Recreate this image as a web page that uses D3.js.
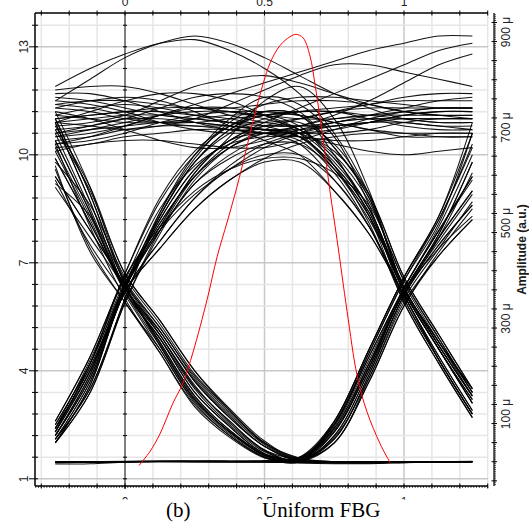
<!DOCTYPE html>
<html>
<head>
<meta charset="utf-8">
<script src="https://cdn.jsdelivr.net/npm/d3@7"></script>
<style>
  body { margin: 0; background: #fff; }
  svg { display: block; }
  .tick_text { font-family: "Liberation Sans", Arial, sans-serif; font-size: 12px; fill: #222; }
  .axis_title { font-family: "Liberation Sans", Arial, sans-serif; font-size: 12px; font-weight: bold; fill: #1a1a1a; }
  .caption { font-family: "Liberation Serif", "Times New Roman", serif; font-size: 21px; fill: #000; }
</style>
</head>
<body>
<div class="d3_content"></div>
<script>
// sample times of every eye trace (bit periods)
const time_samples = [-0.25, -0.125, 0, 0.125, 0.25, 0.375, 0.5, 0.625, 0.75, 0.875, 1, 1.125, 1.245];

// eye traces grouped by bit pattern (prev, current, next), left axis units
const traces_000 = [
  [1.47,1.47,1.48,1.48,1.48,1.48,1.47,1.46,1.46,1.46,1.47,1.48,1.48],
  [1.41,1.42,1.46,1.48,1.49,1.49,1.48,1.44,1.42,1.42,1.45,1.48,1.49],
  [1.45,1.46,1.47,1.50,1.50,1.49,1.47,1.46,1.45,1.45,1.46,1.47,1.47],
  [1.48,1.48,1.49,1.49,1.48,1.47,1.46,1.45,1.44,1.44,1.46,1.47,1.48]
];
const traces_001 = [
  [1.47,1.47,1.48,1.48,1.48,1.48,1.49,1.55,2.3,4.1,6.2,7.7,9.0],
  [1.46,1.47,1.47,1.48,1.49,1.49,1.50,1.60,2.5,4.4,6.3,7.9,9.4],
  [1.48,1.48,1.48,1.47,1.47,1.47,1.48,1.52,2.1,3.9,6.1,7.5,8.6],
  [1.45,1.46,1.47,1.48,1.48,1.49,1.50,1.58,2.4,4.2,6.2,7.8,9.8],
  [1.46,1.46,1.47,1.48,1.48,1.48,1.49,1.60,2.6,4.6,6.6,8.3,10.6],
  [1.47,1.47,1.48,1.48,1.48,1.48,1.48,1.50,2.0,3.7,5.8,7.2,8.2],
  [1.47,1.48,1.48,1.48,1.47,1.47,1.48,1.56,2.5,4.5,6.5,8.2,10.2]
];
const traces_100 = [
  [10.9,8.7,6.3,4.9,3.4,2.45,1.7,1.5,1.47,1.46,1.47,1.47,1.47],
  [9.9,8.1,6.3,5.1,3.7,2.7,1.9,1.55,1.48,1.47,1.47,1.48,1.48],
  [10.4,8.4,6.2,4.7,3.2,2.3,1.65,1.48,1.46,1.46,1.47,1.47,1.48],
  [9.4,7.9,6.4,5.0,3.55,2.6,1.8,1.52,1.47,1.47,1.48,1.48,1.48],
  [11.0,8.9,6.4,4.8,3.3,2.35,1.68,1.5,1.45,1.44,1.45,1.46,1.47],
  [9.7,7.3,5.9,4.5,3.05,2.2,1.6,1.47,1.45,1.45,1.46,1.47,1.47],
  [10.8,9.1,6.7,5.4,4.0,2.9,2.0,1.58,1.48,1.47,1.47,1.47,1.48],
  [9.2,8.3,6.5,5.2,3.85,2.85,1.98,1.56,1.47,1.46,1.46,1.47,1.47]
];
const traces_101 = [
  [10.1,8.2,6.2,4.9,3.4,2.45,1.7,1.5,2.3,4.1,6.2,7.7,9.0],
  [10.6,8.5,6.3,5.1,3.7,2.7,1.9,1.55,2.5,4.4,6.3,7.9,9.4],
  [9.1,7.7,6.3,4.7,3.2,2.3,1.65,1.48,2.1,3.9,6.1,7.5,8.6],
  [10.9,8.7,6.3,5.0,3.55,2.6,1.8,1.52,2.4,4.2,6.2,7.8,9.8],
  [9.9,8.1,6.3,4.8,3.3,2.35,1.68,1.5,2.2,4.0,6.2,7.4,8.3],
  [10.4,8.4,6.2,4.9,3.5,2.5,1.75,1.5,2.3,4.2,6.3,7.9,9.3],
  [9.4,7.9,6.4,5.2,3.8,2.8,1.95,1.56,2.35,4.1,6.2,7.6,8.9],
  [11.0,8.9,6.4,4.75,3.25,2.3,1.66,1.49,2.2,4.0,6.1,7.7,9.5],
  [10.2,8.3,6.3,5.0,3.6,2.55,1.78,1.51,2.45,4.3,6.3,8.0,10.0],
  [9.6,7.4,5.9,4.6,3.1,2.2,1.6,1.47,2.0,3.7,5.8,7.3,8.5],
  [10.7,9.0,6.7,5.4,4.0,2.95,2.05,1.6,2.6,4.6,6.6,8.2,10.3],
  [10.3,8.0,6.0,4.5,3.0,2.15,1.58,1.47,2.15,3.8,5.9,7.2,8.2],
  [9.8,8.6,6.6,5.3,3.9,2.9,2.0,1.58,2.55,4.5,6.5,8.1,10.6],
  [11.2,9.1,6.5,5.1,3.75,2.75,1.9,1.54,2.0,3.8,6.0,7.4,8.7],
  [9.3,7.5,6.1,4.6,3.15,2.25,1.62,1.48,2.6,4.6,6.6,8.3,10.9]
];
const traces_010 = [
  [2.2,3.9,6.3,7.9,9.2,9.9,10.3,10.3,9.6,8.3,6.2,4.6,3.1],
  [2.4,4.1,6.3,8.2,9.6,10.4,10.8,10.7,9.9,8.5,6.3,4.7,3.3],
  [2.1,3.7,6.2,7.6,8.8,9.6,10.0,10.0,9.3,8.0,6.1,4.4,2.9],
  [2.3,4.0,6.4,8.3,9.8,10.7,11.2,11.1,10.2,8.8,6.3,4.8,3.5],
  [2.0,3.6,6.2,7.4,8.5,9.3,9.8,9.8,9.0,7.8,6.1,4.3,2.8],
  [2.5,4.2,6.4,8.1,9.4,10.2,10.6,10.5,9.7,8.4,6.2,4.6,3.2],
  [2.2,3.8,6.3,8.0,9.5,10.5,11.5,11.9,11.0,9.0,6.3,4.7,3.3],
  [2.0,3.4,5.9,7.9,9.4,10.3,10.8,10.9,10.3,8.9,6.6,5.0,3.5],
  [2.6,4.4,6.7,8.7,10.0,10.8,11.2,11.1,10.0,8.3,5.9,4.2,2.7],
  [2.3,4.2,6.6,8.0,9.0,9.6,9.9,9.9,9.5,8.6,6.5,4.9,3.4],
  [2.1,3.5,6.0,8.4,10.0,11.0,11.6,11.4,10.5,8.6,6.0,4.3,2.8]
];
const traces_011 = [
  [2.2,3.9,6.3,7.9,9.2,10.0,10.5,10.8,11.0,11.1,11.1,11.1,11.1],
  [2.4,4.1,6.3,8.2,9.6,10.4,10.9,11.3,11.7,12.1,12.5,12.9,13.1],
  [2.1,3.7,6.2,7.6,8.8,9.7,10.3,10.6,10.8,10.9,10.9,10.8,10.8],
  [2.3,4.0,6.4,8.3,9.8,10.7,11.1,11.1,10.9,10.7,10.5,10.5,10.5],
  [2.0,3.6,6.2,7.4,8.5,9.3,9.9,10.3,10.5,10.6,10.6,10.6,10.6],
  [2.5,4.2,6.4,8.1,9.4,10.2,10.6,10.8,11.1,11.5,12.0,12.5,12.8],
  [2.2,3.8,6.3,8.0,9.5,10.4,10.6,10.5,10.3,10.1,10.0,10.1,10.2],
  [2.4,4.0,6.3,8.4,9.9,10.9,11.4,11.6,11.6,11.5,11.4,11.3,11.3],
  [2.0,3.4,5.9,7.8,9.3,10.2,10.7,11.0,11.2,11.3,11.3,11.3,11.3],
  [2.6,4.4,6.7,8.8,10.1,10.8,11.1,11.2,11.2,11.0,10.8,10.7,10.7],
  [2.3,4.2,6.6,7.9,8.9,9.6,10.2,10.6,10.9,11.0,11.0,11.0,11.0],
  [2.1,3.5,6.0,8.3,9.8,10.6,11.0,11.2,11.3,11.4,11.6,11.7,11.7],
  [2.4,4.3,6.5,8.5,9.7,10.3,10.5,10.5,10.4,10.4,10.5,10.6,10.6]
];
const traces_110 = [
  [11.0,11.1,11.2,11.2,11.1,11.0,10.8,10.5,9.6,8.3,6.2,4.6,3.1],
  [10.5,10.7,10.9,11.1,11.2,11.2,11.0,10.7,9.9,8.5,6.3,4.7,3.3],
  [11.9,12.4,12.8,13.1,13.2,12.9,12.4,11.7,10.6,8.9,6.3,4.8,3.4],
  [10.2,10.3,10.5,10.6,10.7,10.7,10.6,10.3,9.3,8.0,6.1,4.4,2.9],
  [11.4,11.3,11.1,10.9,10.8,10.8,10.7,10.5,9.7,8.4,6.2,4.6,3.2],
  [10.7,10.8,11.0,11.3,11.6,11.7,11.6,11.2,10.2,8.8,6.3,4.8,3.5],
  [11.3,11.5,11.6,11.5,11.2,10.8,10.4,10.0,9.0,7.8,6.1,4.3,2.8],
  [11.7,11.7,11.5,11.2,10.9,10.7,10.7,10.6,9.8,8.5,6.2,4.6,3.1],
  [10.6,10.8,11.0,11.0,10.9,10.8,10.7,10.6,10.1,8.9,6.6,5.0,3.5],
  [11.1,11.0,10.9,10.9,11.0,11.1,11.1,10.8,9.7,8.1,5.9,4.2,2.7],
  [10.3,10.5,10.8,11.1,11.3,11.3,11.1,10.7,10.0,8.7,6.5,4.9,3.4],
  [11.5,11.4,11.2,10.9,10.7,10.6,10.6,10.4,9.5,8.0,6.0,4.3,2.8],
  [10.9,11.2,11.5,11.7,11.7,11.5,11.1,10.6,9.6,8.2,6.4,4.8,3.3]
];
const traces_111 = [
  [11.0,11.1,11.2,11.3,11.3,11.2,11.1,11.0,11.0,11.1,11.2,11.3,11.3],
  [10.6,10.7,10.8,10.9,10.9,10.8,10.7,10.7,10.8,10.9,11.0,11.0,11.0],
  [11.6,11.5,11.3,11.1,11.0,10.9,10.8,10.8,10.9,11.1,11.3,11.5,11.6],
  [10.3,10.4,10.6,10.9,11.1,11.2,11.2,11.1,10.9,10.7,10.6,10.5,10.5],
  [11.5,12.1,12.7,13.1,13.3,13.1,12.7,12.2,11.7,11.3,11.0,10.9,10.9],
  [10.5,10.6,10.8,11.1,11.4,11.7,12.0,12.3,12.6,12.9,13.1,13.3,13.3],
  [10.1,10.3,10.4,10.4,10.3,10.2,10.2,10.4,10.7,11.0,11.2,11.3,11.3],
  [11.2,11.0,10.7,10.4,10.2,10.2,10.4,10.7,10.9,11.0,10.9,10.8,10.7],
  [11.8,11.9,11.9,11.7,11.4,11.1,10.9,10.8,10.8,10.9,11.1,11.2,11.2],
  [10.8,10.9,11.1,11.5,11.9,12.1,12.2,12.0,11.7,11.4,11.2,11.1,11.1],
  [10.9,10.8,10.7,10.8,11.0,11.4,11.8,12.2,12.5,12.5,12.3,12.1,11.9],
  [11.3,11.2,11.0,10.9,10.9,11.0,11.1,11.2,11.2,11.1,11.0,10.9,10.9],
  [10.9,11.0,11.1,11.1,11.0,10.9,10.9,11.0,11.2,11.4,11.5,11.5,11.5],
  [11.4,11.5,11.5,11.4,11.3,11.3,11.4,11.5,11.5,11.4,11.2,11.1,11.0],
  [10.4,10.5,10.7,10.8,10.8,10.7,10.6,10.6,10.7,10.9,11.1,11.2,11.2],
  [11.1,11.3,11.4,11.3,11.1,10.9,10.7,10.6,10.6,10.7,10.9,11.0,11.0]
];

// optical pulse (red), right axis in micro units
const pulse_t = [0.050,0.090,0.125,0.172,0.208,0.244,0.294,0.330,0.366,0.401,0.437,0.473,0.520,0.556,0.591,0.613,0.638,0.663,0.681,0.699,0.717,0.735,0.760,0.796,0.832,0.867,0.914,0.950];
const pulse_amp = [-8,22,58,123,165,230,339,429,502,575,660,745,835,872,890,895,888,850,790,720,645,565,465,315,180,105,38,-2];

// tick labels
const x_tick_labels = [0, 0.5, 1];
const left_tick_labels = [1, 4, 7, 10, 13];
const right_tick_labels = [100, 300, 500, 700, 900];

//frame
frame = { left: 35, right: 488, top: 13, bottom: 486, right_axis: 494 };

const x = d3.scaleLinear().domain([-0.3226, 1.301]).range([frame.left, frame.right]);
const y = d3.scaleLinear().domain([0.8, 13.94]).range([frame.bottom, frame.top]);
const y2 = d3.scaleLinear().domain([-50.8, 939.8]).range([frame.bottom, frame.top]);

const svg = d3.select(".d3_content").append("svg")
  .attr("width", 529)
  .attr("height", 524);

const x_minor = d3.range(-3, 14).map(i => Math.round(i) / 10);
const y_minor = d3.range(0, 22).map(i => +(1 + i * 0.6).toFixed(1));
const is_major_x = t => Math.abs(t - 0.5) < 1e-6 || Math.abs(t - 1) < 1e-6;
const is_major_y = v => left_tick_labels.some(l => Math.abs(l - v) < 1e-6);

// grid
const grid = svg.append("g");
grid.selectAll(".vgrid")
  .data(x_minor.filter(t => t !== 0))
  .join("line")
  .attr("x1", d => x(d)).attr("x2", d => x(d))
  .attr("y1", frame.top).attr("y2", frame.bottom)
  .attr("stroke", d => is_major_x(d) ? "#c8c8c8" : "#e6e6e6")
  .attr("stroke-width", 1.5);
grid.selectAll(".hgrid")
  .data(y_minor)
  .join("line")
  .attr("x1", frame.left).attr("x2", frame.right)
  .attr("y1", d => y(d)).attr("y2", d => y(d))
  .attr("stroke", d => is_major_y(d) ? "#c8c8c8" : "#e6e6e6")
  .attr("stroke-width", 1.5);

// black line at t = 0 with its small ticks
svg.append("line")
  .attr("x1", x(0)).attr("x2", x(0))
  .attr("y1", frame.top).attr("y2", frame.bottom + 3)
  .attr("stroke", "#000").attr("stroke-width", 1);
svg.append("g").selectAll("line")
  .data(y_minor)
  .join("line")
  .attr("x1", x(0) - 2).attr("x2", x(0) + 2)
  .attr("y1", d => y(d)).attr("y2", d => y(d))
  .attr("stroke", "#000").attr("stroke-width", 1);

// eye traces
const trace_line = d3.line()
  .x((d, i) => x(time_samples[i]))
  .y(d => y(d))
  .curve(d3.curveCatmullRom.alpha(0.5));

const all_traces = [].concat(traces_000, traces_001, traces_100, traces_101,
                             traces_010, traces_011, traces_110, traces_111);
svg.append("g").selectAll("path")
  .data(all_traces)
  .join("path")
  .attr("d", trace_line)
  .attr("fill", "none")
  .attr("stroke", "#000")
  .attr("stroke-width", 1.05)
  .attr("stroke-opacity", 0.92);

// red pulse on the right axis
const pulse_line = d3.line()
  .x((d, i) => x(pulse_t[i]))
  .y(d => y2(d))
  .curve(d3.curveCatmullRom.alpha(0.5));
svg.append("path")
  .attr("d", pulse_line(pulse_amp))
  .attr("fill", "none")
  .attr("stroke", "#ff0000")
  .attr("stroke-width", 1);

// frame lines
const axes = svg.append("g").attr("stroke", "#000");
axes.append("line").attr("x1", frame.left).attr("x2", frame.right).attr("y1", frame.top).attr("y2", frame.top).attr("stroke-width", 1.5);
axes.append("line").attr("x1", frame.left).attr("x2", frame.right).attr("y1", frame.bottom).attr("y2", frame.bottom).attr("stroke-width", 1.5);
axes.append("line").attr("x1", frame.left).attr("x2", frame.left).attr("y1", frame.top).attr("y2", frame.bottom).attr("stroke-width", 1.5);
axes.append("line").attr("x1", frame.right_axis).attr("x2", frame.right_axis).attr("y1", frame.top).attr("y2", frame.bottom).attr("stroke-width", 1.2);

// top and bottom ticks
axes.selectAll(".tt").data(x_minor).join("line")
  .attr("x1", d => x(d)).attr("x2", d => x(d))
  .attr("y1", frame.top - 2.5).attr("y2", frame.top + 2.5).attr("stroke-width", 1);
axes.selectAll(".bt").data(x_minor).join("line")
  .attr("x1", d => x(d)).attr("x2", d => x(d))
  .attr("y1", frame.bottom - 2.5).attr("y2", frame.bottom + 2.5).attr("stroke-width", 1);
axes.selectAll(".bd").data(d3.range(-32, 131)).join("line")
  .attr("x1", d => x(d / 100)).attr("x2", d => x(d / 100))
  .attr("y1", frame.bottom).attr("y2", frame.bottom + 1.8).attr("stroke-width", 0.8);

// left ticks
axes.selectAll(".lt").data(y_minor).join("line")
  .attr("x1", d => frame.left - (is_major_y(d) ? 6 : 3)).attr("x2", frame.left + 3)
  .attr("y1", d => y(d)).attr("y2", d => y(d)).attr("stroke-width", 1);

// right ticks
axes.selectAll(".rt").data(d3.range(-40, 940, 40)).join("line")
  .attr("x1", frame.right_axis - 2.5).attr("x2", frame.right_axis + 3)
  .attr("y1", d => y2(d)).attr("y2", d => y2(d)).attr("stroke-width", 1);
axes.selectAll(".rd").data(d3.range(-48, 940, 4)).join("line")
  .attr("x1", frame.right_axis).attr("x2", frame.right_axis + 2)
  .attr("y1", d => y2(d)).attr("y2", d => y2(d)).attr("stroke-width", 0.7);

// tick labels
svg.append("g").selectAll("text").data(x_tick_labels).join("text")
  .attr("class", "tick_text")
  .attr("x", d => x(d)).attr("y", 6)
  .attr("text-anchor", "middle")
  .text(d => d);

svg.append("clipPath").attr("id", "bottom_clip")
  .append("rect").attr("x", 0).attr("y", 489).attr("width", 529).attr("height", 10.5);
svg.append("g").attr("clip-path", "url(#bottom_clip)")
  .selectAll("text").data(x_tick_labels).join("text")
  .attr("class", "tick_text")
  .attr("x", d => x(d)).attr("y", 506)
  .attr("text-anchor", "middle")
  .text(d => d);

svg.append("g").selectAll("text").data(left_tick_labels).join("text")
  .attr("class", "tick_text")
  .attr("transform", d => `translate(28, ${y(d)}) rotate(-90)`)
  .attr("text-anchor", "middle")
  .text(d => d);

svg.append("g").selectAll("text").data(right_tick_labels).join("text")
  .attr("class", "tick_text")
  .attr("transform", d => `translate(510, ${y2(d)}) rotate(-90)`)
  .attr("text-anchor", "middle")
  .text(d => `${d} μ`);

svg.append("text").text("Amplitude (a.u.)")
  .attr("class", "axis_title")
  .attr("transform", `translate(526, ${(frame.top + frame.bottom) / 2}) rotate(-90)`)
  .attr("text-anchor", "middle");

// caption
svg.append("text").text("(b)").attr("class", "caption").attr("x", 166).attr("y", 517);
svg.append("text").text("Uniform FBG").attr("class", "caption").attr("x", 262).attr("y", 517);
</script>
</body>
</html>
